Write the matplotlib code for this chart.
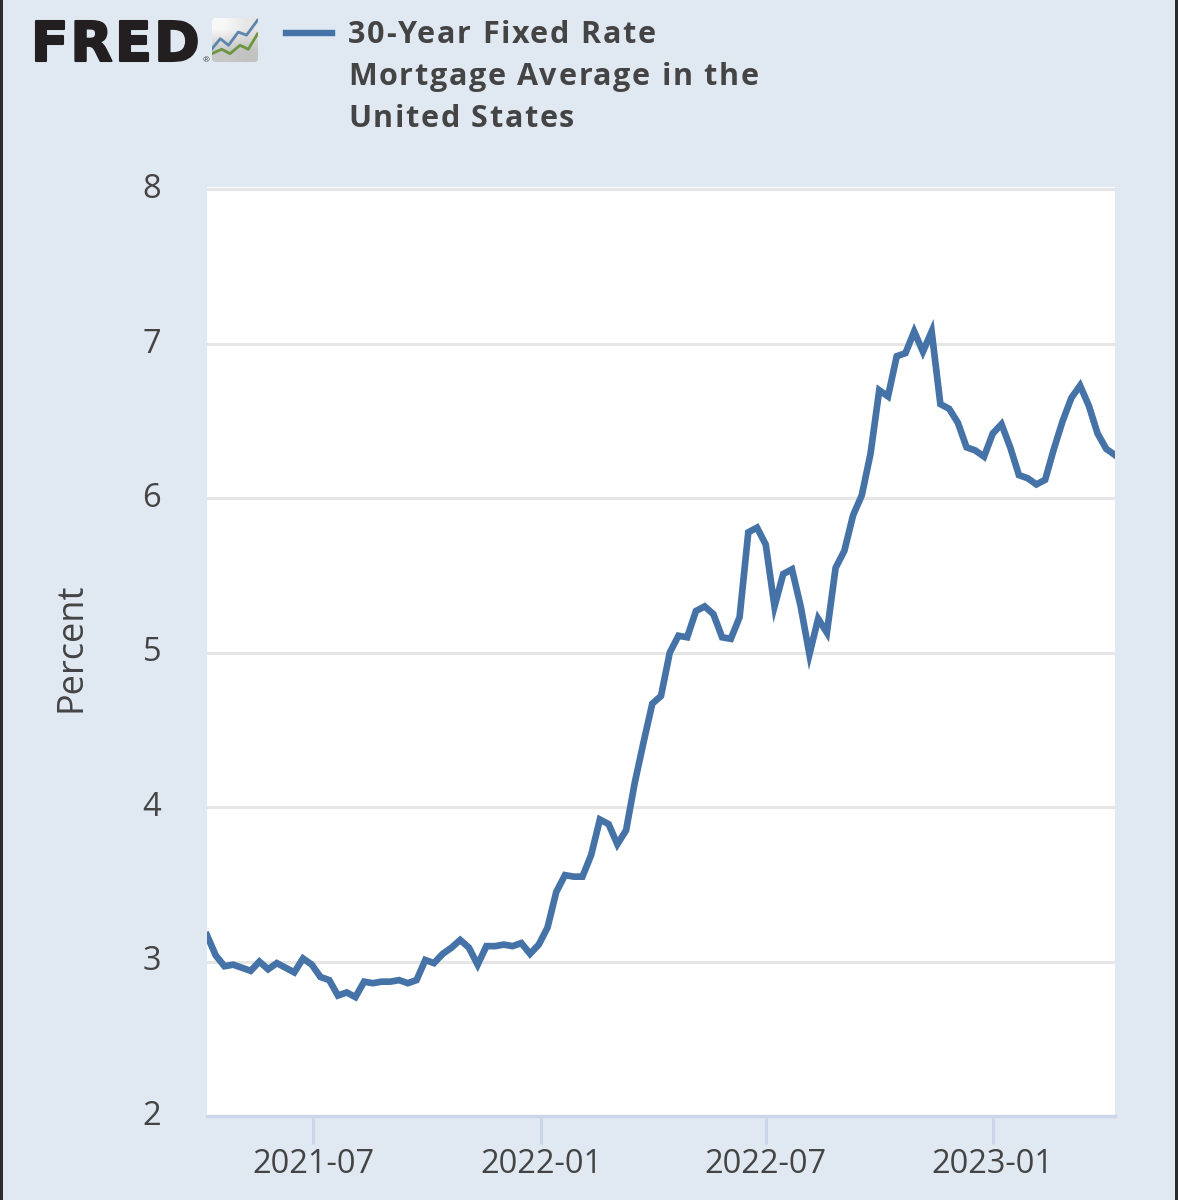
import matplotlib
matplotlib.use("Agg")
import matplotlib.pyplot as plt
import matplotlib.patheffects as pe
from matplotlib.transforms import ScaledTranslation
import pandas as pd
from matplotlib.patches import FancyBboxPatch, Rectangle

# Weekly mortgage rate
rates = [
    3.17, 3.04, 2.97, 2.98, 2.96, 2.94, 3.00, 2.95, 2.99, 2.96, 2.93, 3.02, 2.98,
    2.90, 2.88, 2.78, 2.80, 2.77, 2.87, 2.86, 2.87, 2.87, 2.88, 2.86, 2.88, 3.01,
    2.99, 3.05, 3.09, 3.14, 3.09, 2.98, 3.10, 3.10, 3.11, 3.10, 3.12, 3.05, 3.11,
    3.22, 3.45, 3.56, 3.55, 3.55, 3.69, 3.92, 3.89, 3.76, 3.85, 4.16, 4.42, 4.67,
    4.72, 5.00, 5.11, 5.10, 5.27, 5.30, 5.25, 5.10, 5.09, 5.23, 5.78, 5.81, 5.70,
    5.30, 5.51, 5.54, 5.30, 4.99, 5.22, 5.13, 5.55, 5.66, 5.89, 6.02, 6.29, 6.70,
    6.66, 6.92, 6.94, 7.08, 6.95, 7.08, 6.61, 6.58, 6.49, 6.33, 6.31, 6.27, 6.42,
    6.48, 6.33, 6.15, 6.13, 6.09, 6.12, 6.32, 6.50, 6.65, 6.73, 6.60, 6.42, 6.32,
    6.28,
]
dates = pd.date_range("2021-04-08", periods=len(rates), freq="7D")
# the ticks sit on these days in the reference
x_ticks = ["2021-07-02", "2022-01-01", "2022-06-30", "2022-12-29"]
x_labels = ["2021-07", "2022-01", "2022-07", "2023-01"]
y_ticks = [2, 3, 4, 5, 6, 7, 8]
legend_lines = ["30-Year Fixed Rate", "Mortgage Average in the", "United States"]

W, H = 1178, 1200
BG = "#e0e8f1"
TEXT = "#444444"
BLUE = "#4572a7"
AXIS = "#ccd6eb"
plt.rcParams["font.family"] = ["Open Sans", "DejaVu Sans"]


def fx(px):
    return px / W


def fy(py):
    return 1 - py / H


fig = plt.figure(figsize=(W / 100, H / 100), dpi=100, facecolor=BG)
renderer = fig.canvas.get_renderer()


# matplotlib has no letter spacing, so place the characters one by one
def spaced_text(x, y, text, spacing, **kwargs):
    for i, ch in enumerate(text):
        t = fig.text(fx(x), fy(y), text[:i + 1], ha="left", va="baseline", **kwargs)
        whole = t.get_window_extent(renderer).width
        t.set_text(ch)
        own = t.get_window_extent(renderer).width
        t.set_x(fx(x + whole - own + i * spacing))
        if ch == " ":
            t.remove()


# dark screenshot edges
fig.add_artist(Rectangle((0, 0), fx(3), 1, transform=fig.transFigure, color="#2b2b2b", lw=0))
fig.add_artist(Rectangle((fx(1175), 0), fx(3), 1, transform=fig.transFigure, color="#2b2b2b", lw=0))

ax = fig.add_axes([fx(207), fy(1116), fx(908), fy(187) - fy(1116)])
ax.set_facecolor("white")
ax.plot(dates, rates, color=BLUE, lw=4.8, solid_joinstyle="miter", zorder=3)
ax.set_xlim(dates[0], dates[-1])
ax.set_ylim(2, 8.016)

ax.set_yticks(y_ticks)
ax.grid(axis="y", color="#e6e6e6", lw=2.2)
ax.set_axisbelow(True)
ax.set_xticks(pd.to_datetime(x_ticks))
ax.set_xticklabels(x_labels)
ax.tick_params(axis="x", length=20, width=2.2, color=AXIS, labelsize=23.5,
               labelcolor=TEXT, pad=3)
ax.tick_params(axis="y", length=0, labelsize=23.5, labelcolor=TEXT, pad=33)
for label in ax.get_yticklabels():
    label.set_verticalalignment("bottom")
    label.set_transform(label.get_transform() + ScaledTranslation(0, -12 / 72, fig.dpi_scale_trans))

for side in ["top", "right", "left"]:
    ax.spines[side].set_visible(False)
ax.spines["bottom"].set_color(AXIS)
ax.spines["bottom"].set_linewidth(2.4)

fig.text(fx(71), fy(647), "Percent", rotation=90, ha="center", va="center",
         fontsize=26, color=TEXT)

# legend
fig.add_artist(plt.Line2D([fx(286), fx(332)], [fy(33), fy(33)], color=BLUE, lw=4.6))
for i, line in enumerate(legend_lines):
    spaced_text(348, 43 + 42 * i, line, 1.7, fontsize=22, fontweight="bold", color=TEXT)

# FRED logo
spaced_text(31, 61, "FRED", 2.0, fontsize=39.5, fontweight="bold",
            family="DejaVu Sans", color="#231f20",
            path_effects=[pe.withStroke(linewidth=1.5, foreground="#231f20")])
fig.text(fx(203), fy(62), "®", ha="left", va="baseline", fontsize=6, color="#444444")

icon = fig.add_axes([fx(212), fy(62), fx(46), fy(18) - fy(62)])
icon.set_xlim(0, 10)
icon.set_ylim(0, 10)
icon.axis("off")
shade = icon.imshow([[0.97, 0.9], [0.78, 0.76]], cmap="gray", vmin=0, vmax=1,
                    extent=(0, 10, 0, 10), aspect="auto", interpolation="bilinear")
box = FancyBboxPatch((0.5, 0.5), 9, 9, boxstyle="round,pad=0.5,rounding_size=0.8",
                     transform=icon.transData, fc="none", ec="none")
icon.add_patch(box)
shade.set_clip_path(box)
icon.plot([0, 1.8, 3.6, 5.7, 7.5, 9.9], [3, 5.3, 3.8, 6.8, 6.1, 9.5], color="#5b86ad", lw=2)
icon.plot([0, 2.1, 3.9, 6.1, 7.9, 9.9], [1.9, 2.9, 1.9, 3.8, 2.9, 6.4], color="#6d9540", lw=2)

fig.savefig("out.png", dpi=100, facecolor=BG)
